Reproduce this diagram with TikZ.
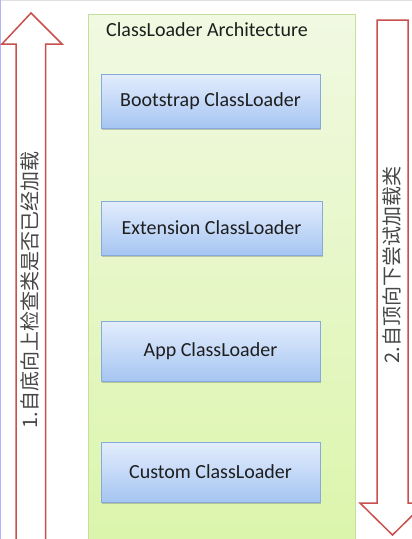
\documentclass[tikz,border=0pt]{standalone}
\usepackage{fontspec}
\setmainfont{Carlito}
\newfontfamily\cjk{Noto Sans CJK SC}
\usetikzlibrary{shadows}
\definecolor{arrowred}{HTML}{C9504D}
\definecolor{boxborder}{HTML}{86AADC}
\definecolor{boxtop}{HTML}{E3EDFD}
\definecolor{boxbot}{HTML}{A6C5F2}
\definecolor{greentop}{HTML}{F1F9E2}
\definecolor{greenbot}{HTML}{DBF5AA}
\definecolor{greenborder}{HTML}{C5E09A}
\definecolor{textdark}{HTML}{1E1E1E}
\tikzset{
  loaderbox/.style={draw=boxborder, line width=0.9pt, top color=boxtop, bottom color=boxbot,
    minimum width=219pt, inner sep=0pt, font=\fontsize{20}{24}\selectfont, text=textdark,
    drop shadow={shadow xshift=1pt, shadow yshift=-1.5pt, opacity=0.35, fill=black!60}},
  bigarrow/.style={draw=arrowred, line width=1.5pt, fill=white, line join=miter},
  arrowtext/.style={rotate=90, font=\cjk\fontsize{20}{24}\selectfont, text=black!72, inner sep=0pt}
}
\begin{document}
\begin{tikzpicture}[x=1pt,y=-1pt]
\useasboundingbox (0,0) rectangle (412,539);
\clip (0,0) rectangle (412,539);
\fill[white] (0,0) rectangle (412,539);
% frame hints
\draw[color=black!12, line width=1pt] (0,0.5) -- (412,0.5);
\draw[color=blue!30, line width=1pt] (0.6,0) -- (0.6,539);
% green container
\shade[top color=greentop, bottom color=greenbot, draw=greenborder, line width=0.8pt]
  (88,14) rectangle (355,560);
\node[font=\fontsize{20}{24}\selectfont, text=textdark, anchor=west, inner sep=0pt] (title) at (106,30) {ClassLoader Architecture};
% loader boxes
\node[loaderbox, minimum height=54pt] (boot) at (210.5,101) {Bootstrap ClassLoader};
\node[loaderbox, minimum height=54pt, minimum width=221pt] (ext) at (211.5,228) {Extension ClassLoader};
\node[loaderbox, minimum height=60pt] (app) at (210.5,351) {App ClassLoader};
\node[loaderbox, minimum height=60pt] (cust) at (210.5,472) {Custom ClassLoader};
% left up arrow
\draw[bigarrow] (31,13) -- (62,44) -- (45.5,44) -- (45.5,570) -- (16,570) -- (16,44) -- (2,44) -- cycle;
\node[arrowtext] (lefttxt) at (30,290) {1.自底向上检查类是否已经加载};
% right down arrow
\draw[bigarrow] (377,20) -- (408,20) -- (408,503) -- (425,503) -- (392.5,535) -- (360,503) -- (377,503) -- cycle;
\node[arrowtext] (righttxt) at (392,265) {2.自顶向下尝试加载类};
\end{tikzpicture}
\end{document}
